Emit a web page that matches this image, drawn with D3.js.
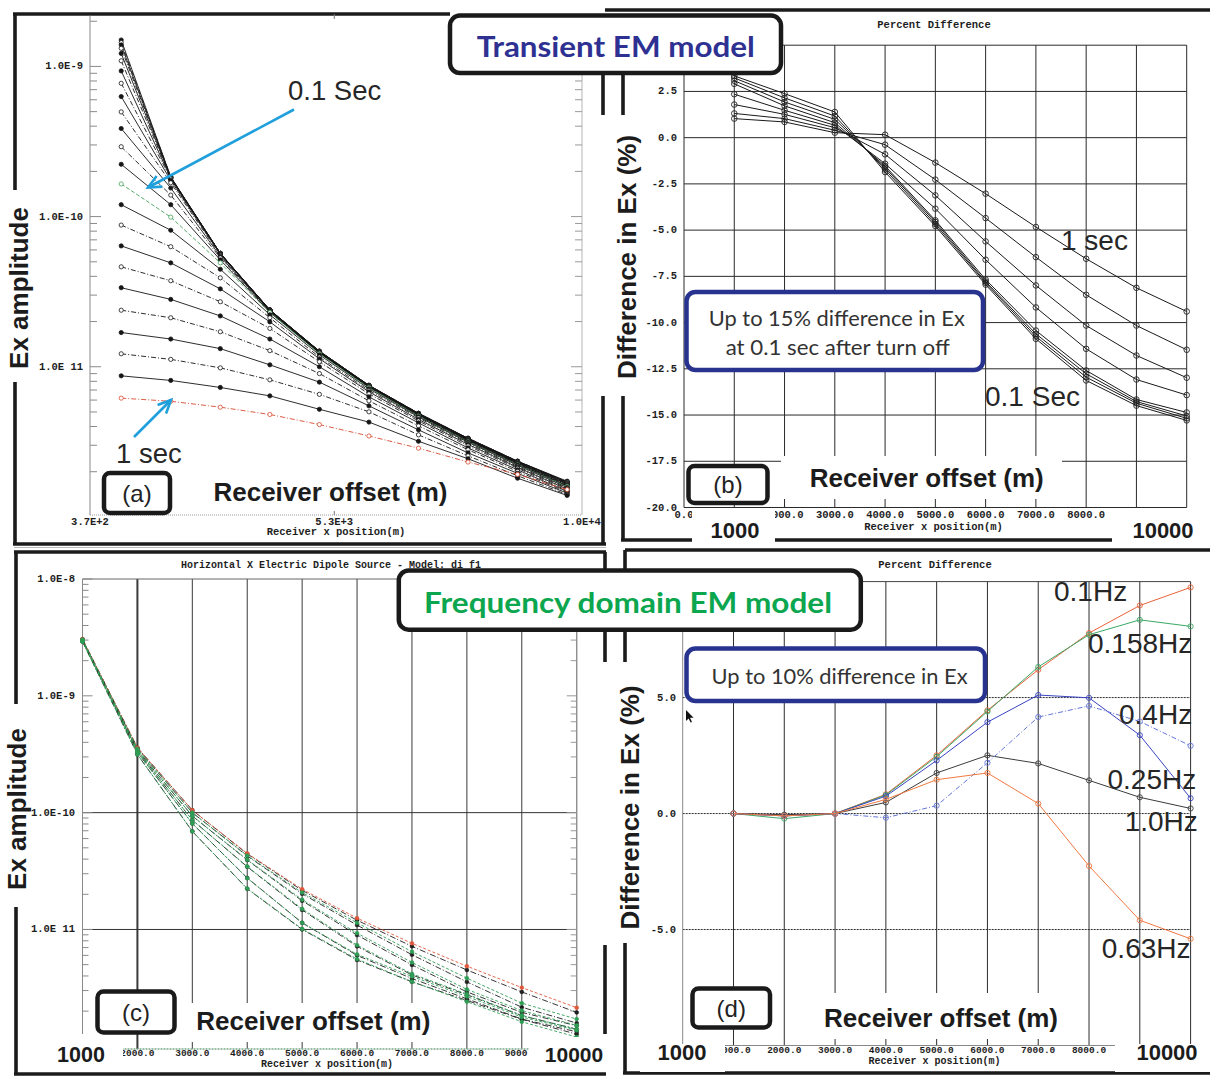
<!DOCTYPE html>
<html><head><meta charset="utf-8">
<script src="https://cdn.jsdelivr.net/npm/d3@7/dist/d3.min.js"></script>
<style>html,body{margin:0;padding:0;background:#fff;} svg{display:block;}</style>
</head><body>
<svg id="fig" width="1210" height="1076" xmlns="http://www.w3.org/2000/svg"></svg>
<script>
// ================= DATA =================
const receiverOffsets = [1000, 2000, 3000, 4000, 5000, 6000, 7000, 8000, 9000, 10000];

// (a) Transient Ex amplitude, time gates (earliest first; gate 14 = 0.1 s, gate 24 = 1 s)
const exGate01 = [1.50e-9, 1.84e-10, 5.69e-11, 2.39e-11, 1.27e-11, 7.52e-12, 4.90e-12, 3.34e-12, 2.35e-12, 1.73e-12];
const exGate02 = [1.44e-9, 1.84e-10, 5.69e-11, 2.39e-11, 1.27e-11, 7.52e-12, 4.90e-12, 3.34e-12, 2.35e-12, 1.71e-12];
const exGate03 = [1.39e-9, 1.82e-10, 5.69e-11, 2.39e-11, 1.27e-11, 7.52e-12, 4.90e-12, 3.34e-12, 2.35e-12, 1.71e-12];
const exGate04 = [1.32e-9, 1.82e-10, 5.69e-11, 2.39e-11, 1.27e-11, 7.52e-12, 4.86e-12, 3.31e-12, 2.33e-12, 1.70e-12];
const exGate05 = [1.22e-9, 1.81e-10, 5.69e-11, 2.39e-11, 1.26e-11, 7.46e-12, 4.86e-12, 3.31e-12, 2.33e-12, 1.69e-12];
const exGate06 = [1.09e-9, 1.81e-10, 5.69e-11, 2.37e-11, 1.26e-11, 7.46e-12, 4.86e-12, 3.31e-12, 2.33e-12, 1.69e-12];
const exGate07 = [9.33e-10, 1.80e-10, 5.65e-11, 2.37e-11, 1.26e-11, 7.46e-12, 4.86e-12, 3.29e-12, 2.31e-12, 1.67e-12];
const exGate08 = [7.72e-10, 1.78e-10, 5.65e-11, 2.37e-11, 1.26e-11, 7.46e-12, 4.82e-12, 3.29e-12, 2.31e-12, 1.66e-12];
const exGate09 = [6.30e-10, 1.74e-10, 5.60e-11, 2.36e-11, 1.25e-11, 7.41e-12, 4.82e-12, 3.26e-12, 2.29e-12, 1.65e-12];
const exGate10 = [4.98e-10, 1.68e-10, 5.52e-11, 2.36e-11, 1.25e-11, 7.41e-12, 4.78e-12, 3.26e-12, 2.29e-12, 1.64e-12];
const exGate11 = [3.86e-10, 1.55e-10, 5.43e-11, 2.34e-11, 1.24e-11, 7.35e-12, 4.78e-12, 3.24e-12, 2.27e-12, 1.62e-12];
const exGate12 = [2.92e-10, 1.39e-10, 5.31e-11, 2.32e-11, 1.24e-11, 7.35e-12, 4.75e-12, 3.21e-12, 2.26e-12, 1.61e-12];
const exGate13 = [2.23e-10, 1.20e-10, 5.15e-11, 2.30e-11, 1.23e-11, 7.29e-12, 4.71e-12, 3.19e-12, 2.24e-12, 1.60e-12];
const exGate14 = [1.65e-10, 9.92e-11, 4.92e-11, 2.29e-11, 1.22e-11, 7.24e-12, 4.68e-12, 3.16e-12, 2.22e-12, 1.59e-12];
const exGate15 = [1.20e-10, 8.11e-11, 4.46e-11, 2.22e-11, 1.20e-11, 7.13e-12, 4.64e-12, 3.14e-12, 2.21e-12, 1.57e-12];
const exGate16 = [8.78e-11, 6.30e-11, 3.91e-11, 2.12e-11, 1.16e-11, 6.96e-12, 4.57e-12, 3.09e-12, 2.17e-12, 1.55e-12];
const exGate17 = [6.38e-11, 4.92e-11, 3.30e-11, 1.99e-11, 1.13e-11, 6.81e-12, 4.46e-12, 3.04e-12, 2.14e-12, 1.53e-12];
const exGate18 = [4.63e-11, 3.74e-11, 2.71e-11, 1.80e-11, 1.08e-11, 6.60e-12, 4.36e-12, 2.97e-12, 2.11e-12, 1.50e-12];
const exGate19 = [3.36e-11, 2.81e-11, 2.18e-11, 1.53e-11, 1.00e-11, 6.30e-12, 4.23e-12, 2.88e-12, 2.06e-12, 1.48e-12];
const exGate20 = [2.38e-11, 2.12e-11, 1.71e-11, 1.28e-11, 9.01e-12, 5.93e-12, 4.04e-12, 2.80e-12, 2.01e-12, 1.46e-12];
const exGate21 = [1.69e-11, 1.53e-11, 1.32e-11, 1.03e-11, 7.90e-12, 5.49e-12, 3.80e-12, 2.67e-12, 1.95e-12, 1.44e-12];
const exGate22 = [1.22e-11, 1.12e-11, 9.83e-12, 8.18e-12, 6.55e-12, 5.01e-12, 3.52e-12, 2.55e-12, 1.88e-12, 1.41e-12];
const exGate23 = [8.70e-12, 8.11e-12, 7.28e-12, 6.40e-12, 5.21e-12, 4.28e-12, 3.19e-12, 2.44e-12, 1.81e-12, 1.39e-12];
const exGate24 = [6.18e-12, 5.89e-12, 5.38e-12, 4.81e-12, 4.12e-12, 3.46e-12, 2.87e-12, 2.32e-12, 1.92e-12, 1.52e-12];
const transientGates = [exGate01, exGate02, exGate03, exGate04, exGate05, exGate06, exGate07, exGate08,
  exGate09, exGate10, exGate11, exGate12, exGate13, exGate14, exGate15, exGate16, exGate17, exGate18,
  exGate19, exGate20, exGate21, exGate22, exGate23, exGate24];
const aYTickValues = [1e-9, 1e-10, 1e-11];
const aYTickLabels = ["1.0E-9", "1.0E-10", "1.0E 11"];
const aXTickValues = [370, 5300, 10300];
const aXTickLabels = ["3.7E+2", "5.3E+3", "1.0E+4"];

// (b) Transient percent difference (1 s first ... 0.1 s last)
const pdGate1 = [1.03, 0.85, 0.27, 0.16, -1.35, -3.03, -4.83, -6.55, -8.12, -9.40];
const pdGate2 = [1.31, 1.03, 0.40, -0.38, -2.27, -4.35, -6.46, -8.50, -10.16, -11.47];
const pdGate3 = [1.79, 1.26, 0.54, -0.90, -3.12, -5.61, -7.99, -10.16, -11.78, -12.98];
const pdGate4 = [2.35, 1.48, 0.67, -1.41, -3.84, -6.60, -9.18, -11.42, -13.08, -13.92];
const pdGate5 = [2.91, 1.72, 0.81, -1.53, -4.47, -7.67, -10.43, -12.59, -14.16, -14.86];
const pdGate6 = [3.08, 1.93, 0.99, -1.62, -4.56, -7.78, -10.61, -12.77, -14.27, -15.05];
const pdGate7 = [3.23, 2.15, 1.17, -1.73, -4.67, -7.85, -10.75, -12.95, -14.36, -15.18];
const pdGate8 = [3.34, 2.38, 1.39, -1.86, -4.78, -7.95, -10.88, -13.13, -14.49, -15.29];
const transientPct = [pdGate1, pdGate2, pdGate3, pdGate4, pdGate5, pdGate6, pdGate7, pdGate8];
const bYTickValues = [5, 2.5, 0, -2.5, -5, -7.5, -10, -12.5, -15, -17.5, -20];
const bYTickLabels = ["5.0", "2.5", "0.0", "-2.5", "-5.0", "-7.5", "-10.0", "-12.5", "-15.0", "-17.5", "-20.0"];
const gridOffsets = [0, 1000, 2000, 3000, 4000, 5000, 6000, 7000, 8000, 9000, 10000];
const gridOffsetLabels = ["0.0", "1000.0", "2000.0", "3000.0", "4000.0", "5000.0", "6000.0", "7000.0", "8000.0", "9000.0", "10000.0"];

// (c) Frequency-domain Ex amplitude, model 1 / model 2
const fdEx1_0p1   = [3.06e-9, 3.60e-10, 1.05e-10, 4.44e-11, 2.16e-11, 1.20e-11, 7.17e-12, 4.50e-12, 2.92e-12, 1.95e-12];
const fdEx2_0p1   = [3.06e-9, 3.60e-10, 1.05e-10, 4.48e-11, 2.21e-11, 1.25e-11, 7.61e-12, 4.85e-12, 3.18e-12, 2.14e-12];
const fdEx1_0p158 = [3.03e-9, 3.53e-10, 1.00e-10, 4.26e-11, 2.02e-11, 1.09e-11, 6.08e-12, 3.56e-12, 2.16e-12, 1.58e-12];
const fdEx2_0p158 = [3.03e-9, 3.52e-10, 1.00e-10, 4.29e-11, 2.07e-11, 1.14e-11, 6.46e-12, 3.83e-12, 2.34e-12, 1.71e-12];
const fdEx1_0p4   = [3.00e-9, 3.43e-10, 9.36e-11, 3.93e-11, 1.76e-11, 8.95e-12, 4.97e-12, 2.92e-12, 1.95e-12, 1.50e-12];
const fdEx2_0p4   = [3.00e-9, 3.43e-10, 9.36e-11, 3.96e-11, 1.80e-11, 9.30e-12, 5.22e-12, 3.07e-12, 2.02e-12, 1.51e-12];
const fdEx1_0p25  = [2.97e-9, 3.36e-10, 8.64e-11, 3.44e-11, 1.47e-11, 7.17e-12, 4.08e-12, 2.76e-12, 1.83e-12, 1.40e-12];
const fdEx2_0p25  = [2.97e-9, 3.36e-10, 8.64e-11, 3.46e-11, 1.50e-11, 7.35e-12, 4.17e-12, 2.80e-12, 1.84e-12, 1.40e-12];
const fdEx1_1p0   = [2.94e-9, 3.28e-10, 8.07e-11, 2.76e-11, 1.14e-11, 6.00e-12, 3.80e-12, 2.55e-12, 1.71e-12, 1.33e-12];
const fdEx2_1p0   = [2.94e-9, 3.28e-10, 8.07e-11, 2.75e-11, 1.14e-11, 6.13e-12, 3.96e-12, 2.67e-12, 1.78e-12, 1.37e-12];
const fdEx1_0p63  = [2.91e-9, 3.15e-10, 6.92e-11, 2.23e-11, 1.00e-11, 5.48e-12, 3.56e-12, 2.47e-12, 1.70e-12, 1.27e-12];
const fdEx2_0p63  = [2.91e-9, 3.15e-10, 6.92e-11, 2.24e-11, 1.01e-11, 5.58e-12, 3.58e-12, 2.41e-12, 1.62e-12, 1.20e-12];
const fdModel1 = [fdEx1_0p1, fdEx1_0p158, fdEx1_0p4, fdEx1_0p25, fdEx1_1p0, fdEx1_0p63];
const fdModel2 = [fdEx2_0p1, fdEx2_0p158, fdEx2_0p4, fdEx2_0p25, fdEx2_1p0, fdEx2_0p63];
const cYTickValues = [1e-8, 1e-9, 1e-10, 1e-11];
const cYTickLabels = ["1.0E-8", "1.0E-9", "1.0E-10", "1.0E 11"];
const cXTickValues = [1000, 2000, 3000, 4000, 5000, 6000, 7000, 8000, 9000, 10000];
const cXTickLabels = ["1000.0", "2000.0", "3000.0", "4000.0", "5000.0", "6000.0", "7000.0", "8000.0", "9000.0", "10000.0"];

// (d) Frequency-domain percent difference
const pdFreq0p1   = [0, -0.10, 0, 0.83, 2.51, 4.45, 6.20, 7.78, 8.97, 9.75];
const pdFreq0p158 = [0, -0.22, 0, 0.80, 2.45, 4.40, 6.32, 7.71, 8.35, 8.07];
const pdFreq0p4   = [0, -0.10, 0, 0.75, 2.29, 3.94, 5.11, 4.99, 3.38, 0.66];
const pdFreq0p25  = [0, -0.05, 0, 0.48, 1.75, 2.51, 2.16, 1.43, 0.70, 0.22];
const pdFreq1p0   = [0, -0.10, 0, -0.18, 0.34, 2.19, 4.16, 4.64, 3.97, 2.92];
const pdFreq0p63  = [0, -0.10, 0, 0.61, 1.46, 1.75, 0.43, -2.26, -4.60, -5.40];
const freqPct = [pdFreq0p1, pdFreq0p158, pdFreq0p4, pdFreq0p25, pdFreq1p0, pdFreq0p63];
const freqNames = ["0.1Hz", "0.158Hz", "0.4Hz", "0.25Hz", "1.0Hz", "0.63Hz"];
const dYTickValues = [5, 0, -5];
const dYTickLabels = ["5.0", "0.0", "-5.0"];

// ================= DRAWING =================
const svg = d3.select("#fig");
svg.append("rect").attr("width", 1210).attr("height", 1076).attr("fill", "#fff");
const MONO = "'Liberation Mono','DejaVu Sans Mono',monospace";
const SANS = "'Liberation Sans',Arial,sans-serif";
const HUM = "Lato,'Open Sans',sans-serif";

function txt(g, x, y, s, o = {}) {
  const t = g.append("text").attr("x", x).attr("y", y).text(s)
    .attr("font-family", o.font || SANS).attr("font-size", o.size || 12)
    .attr("font-weight", o.weight || "normal").attr("fill", o.fill || "#222")
    .attr("text-anchor", o.anchor || "start")
    .attr("dominant-baseline", o.baseline || "central");
  if (o.len) t.attr("textLength", o.len).attr("lengthAdjust", "spacingAndGlyphs");
  if (o.rotate) t.attr("transform", `rotate(${o.rotate},${x},${y})`);
  return t;
}
function seg(g, x1, y1, x2, y2, stroke, w, dash) {
  return g.append("line").attr("x1", x1).attr("y1", y1).attr("x2", x2).attr("y2", y2)
    .attr("stroke", stroke).attr("stroke-width", w).attr("stroke-dasharray", dash || null);
}
function wrect(g, x, y, w, h) {
  return g.append("rect").attr("x", x).attr("y", y).attr("width", w).attr("height", h).attr("fill", "#fff");
}
function isMajor(v) { const l = Math.log10(v); return Math.abs(l - Math.round(l)) < 1e-6; }
const tickFont = { font: MONO, size: 10.5, weight: "bold", fill: "#1e1e1e" };

// ---- Panel frames ----
const gF = svg.append("g");
const FR = "#1b1b1b", FW = 3.6;
[[13,14,450,14],[605,10,1210,10],[15,14,15,190],[15,382,15,545],[13,544,606,544],
 [603,73,603,115],[603,396,603,544],
 [623,73,623,115],[623,396,623,540],[621,540,1210,540],
 [14,552,606,552],[16,552,16,704],[16,907,16,1074],[14,1074,606,1074],
 [605,552,605,570],[605,630,605,662],[605,945,605,1034],
 [625,550,1210,550],[625,550,625,570],[625,631,625,662],[625,943,625,1074],[623,1073,1210,1073]
].forEach(s => seg(gF, s[0], s[1], s[2], s[3], FR, FW));
seg(gF, 14, 547.5, 606, 547.5, "#bbb", 1);

// ---- Panel (a) ----
const gA = svg.append("g");
const xA = d3.scaleLinear().domain([370, 10300]).range([90, 582]);
const yA = d3.scaleLog().domain([1.03e-12, 2.18e-9]).range([515, 15.6]);
seg(gA, xA(370), yA.range()[1], xA(370), yA.range()[0], "#8a8a8a", 1);
seg(gA, xA(10300), yA.range()[1], xA(10300), yA.range()[0], "#b5b5b5", 1);
seg(gA, xA(370), 515, xA(10300), 515, "#999", 1, "1,1");
yA.ticks().forEach(v => {
  const y = yA(v), L = isMajor(v) ? 11 : 7;
  seg(gA, 90, y, 90 + L, y, "#8a8a8a", 1);
  seg(gA, 582, y, 582 - L, y, "#9a9a9a", 1);
});
aYTickValues.forEach((v, i) => txt(gA, 83, yA(v), aYTickLabels[i], { ...tickFont, anchor: "end" }));
aXTickValues.forEach((v, i) => txt(gA, xA(v), 521.5, aXTickLabels[i], { ...tickFont, anchor: "middle" }));
seg(gA, xA(5300), 511, xA(5300), 515, "#777", 1);
seg(gA, xA(5300), 14, xA(5300), 19, "#777", 1);
txt(gA, 336, 531.5, "Receiver x position(m)", { ...tickFont, anchor: "middle" });
const lineA = d3.line().x((d, i) => xA(receiverOffsets[i])).y(d => yA(d));
transientGates.forEach((s, k) => {
  const col = k === 13 ? "#45a35a" : (k === 23 ? "#d84a30" : "#151515");
  const dash = k === 13 ? "4,2" : (k % 2 === 1 ? "5,2,1,2" : null);
  gA.append("path").attr("d", lineA(s)).attr("fill", "none").attr("stroke", col)
    .attr("stroke-width", 0.9).attr("stroke-dasharray", dash);
  gA.selectAll(null).data(s).join("circle")
    .attr("cx", (d, i) => xA(receiverOffsets[i])).attr("cy", d => yA(d)).attr("r", 2.1)
    .attr("fill", (k % 2 === 0 && k !== 23) ? col : "#fff").attr("stroke", col).attr("stroke-width", 0.8);
});

// ---- Panel (b) ----
const gB = svg.append("g");
const xB = d3.scaleLinear().domain([0, 10000]).range([684, 1186.7]);
const yB = d3.scaleLinear().domain([-20, 5]).range([507.5, 45.2]);
bYTickValues.forEach(v => seg(gB, xB(0), yB(v), xB(10000), yB(v), "#2a2a2a", 1));
gridOffsets.forEach(v => seg(gB, xB(v), yB(5), xB(v), yB(-20), "#2a2a2a", 1));
// the top label sits under the title box, so only the visible ones are written
bYTickValues.forEach((v, i) => { if (yB(v) > 80) txt(gB, 677, yB(v), bYTickLabels[i], { ...tickFont, anchor: "end" }); });
gridOffsets.forEach((v, i) => { if (v !== 1000 && v < 9000) txt(gB, xB(v), 514.5, gridOffsetLabels[i], { ...tickFont, anchor: "middle" }); });
txt(gB, 934, 25, "Percent Difference", { ...tickFont, anchor: "middle" });
txt(gB, 933.5, 526.8, "Receiver x position(m)", { ...tickFont, anchor: "middle" });
const lineB = d3.line().x((d, i) => xB(receiverOffsets[i])).y(d => yB(d));
transientPct.forEach(s => {
  gB.append("path").attr("d", lineB(s)).attr("fill", "none").attr("stroke", "#1a1a1a").attr("stroke-width", 1);
  gB.selectAll(null).data(s).join("circle")
    .attr("cx", (d, i) => xB(receiverOffsets[i])).attr("cy", d => yB(d)).attr("r", 2.8)
    .attr("fill", "none").attr("stroke", "#222").attr("stroke-width", 0.9);
});

// ---- Panel (c) ----
const gC = svg.append("g");
const xC = d3.scaleLinear().domain([1000, 10000]).range([82.5, 576.7]);
const yC = d3.scaleLog().domain([9.5e-13, 1e-8]).range([1048.9, 579]);
cXTickValues.slice(1).forEach(v => seg(gC, xC(v), yC(1e-8), xC(v), yC.range()[0], "#3a3a3a", v === 2000 ? 2 : 1));
[1e-10, 1e-11].forEach(v => seg(gC, xC(1000), yC(v), xC(10000), yC(v), "#333", 1));
seg(gC, xC(1000), yC(1e-8), xC(10000), yC(1e-8), "#666", 1);
seg(gC, xC(1000), yC(1e-8), xC(1000), 1034, "#8a8a8a", 1);
seg(gC, xC(10000), yC(1e-8), xC(10000), 1034, "#9a9a9a", 1);
seg(gC, xC(1000), yC.range()[0], xC(10000), yC.range()[0], "#7aa88a", 1.5, "2,1");
yC.ticks().forEach(v => {
  const y = yC(v), L = isMajor(v) ? 10 : 6;
  if (y > 1036) return;
  seg(gC, 82.5, y, 82.5 + L, y, "#8a8a8a", 1);
  seg(gC, 576.7, y, 576.7 - L, y, "#9a9a9a", 1);
});
cYTickValues.forEach((v, i) => txt(gC, 75, yC(v), cYTickLabels[i], { ...tickFont, anchor: "end" }));
cXTickValues.forEach((v, i) => { if (v > 1000 && v < 10000) txt(gC, xC(v), 1053.2, cXTickLabels[i], { ...tickFont, anchor: "middle", size: 9.5 }); });
txt(gC, 327, 1064, "Receiver x position(m)", { ...tickFont, anchor: "middle", size: 10 });
txt(gC, 331, 565.3, "Horizontal X Electric Dipole Source - Model: di f1", { ...tickFont, anchor: "middle", size: 10 });
const lineC = d3.line().x((d, i) => xC(receiverOffsets[i])).y(d => yC(d));
function drawC(s, col, dash) {
  gC.append("path").attr("d", lineC(s)).attr("fill", "none").attr("stroke", col)
    .attr("stroke-width", 0.9).attr("stroke-dasharray", dash);
  gC.selectAll(null).data(s).join("circle")
    .attr("cx", (d, i) => xC(receiverOffsets[i])).attr("cy", d => yC(d)).attr("r", 1.9)
    .attr("fill", col).attr("stroke", col).attr("stroke-width", 0.6);
}
fdModel1.forEach(s => drawC(s, "#1f1f1f", "6,2,1,2"));
fdModel2.forEach((s, k) => drawC(s, k === 0 ? "#e0573a" : "#2f9e55", "3,2"));

// ---- Panel (d) ----
const gD = svg.append("g");
const xD = d3.scaleLinear().domain([0, 10000]).range([682.7, 1190.6]);
const yD = d3.scaleLinear().domain([-10, 10]).range([1045.5, 581.6]);
gridOffsets.slice(1).forEach(v => seg(gD, xD(v), yD(10), xD(v), yD(-10), "#2e2e2e", 1));
dYTickValues.forEach(v => seg(gD, xD(0), yD(v), xD(10000), yD(v), "#2e2e2e", 1, "2,1"));
seg(gD, xD(0), yD(10), xD(10000), yD(10), "#444", 1);
seg(gD, xD(0), yD(10), xD(0), yD(-10), "#8a8a8a", 1);
seg(gD, xD(0), yD(-10), xD(10000), yD(-10), "#888", 1);
dYTickValues.forEach((v, i) => txt(gD, 676, yD(v), dYTickLabels[i], { ...tickFont, anchor: "end" }));
gridOffsets.forEach((v, i) => { if (v > 0 && v < 9000) txt(gD, xD(v), 1050.5, gridOffsetLabels[i], { ...tickFont, anchor: "middle", size: 9.5 }); });
txt(gD, 935, 565.3, "Percent Difference", { ...tickFont, anchor: "middle" });
txt(gD, 934.5, 1061.5, "Receiver x position(m)", { ...tickFont, anchor: "middle", size: 10 });
const dColors = ["#e8623a", "#3aa864", "#3a44c2", "#3c3c3c", "#6476d8", "#f07a42"];
const dDash = [null, null, null, null, "5,2,1,2", null];
const lineD = d3.line().x((d, i) => xD(receiverOffsets[i])).y(d => yD(d));
freqPct.forEach((s, k) => {
  gD.append("path").attr("d", lineD(s)).attr("fill", "none").attr("stroke", dColors[k])
    .attr("stroke-width", 1).attr("stroke-dasharray", dDash[k]);
  gD.selectAll(null).data(s).join("circle")
    .attr("cx", (d, i) => xD(receiverOffsets[i])).attr("cy", d => yD(d)).attr("r", 2.6)
    .attr("fill", "none").attr("stroke", dColors[k]).attr("stroke-width", 0.9);
});

// ---- Overlays ----
const gO = svg.append("g");
const bigFont = { font: SANS, size: 22, weight: "bold", fill: "#1c1c1c", anchor: "middle" };
// (b)
wrect(gO, 692, 509, 83, 37); txt(gO, 735, 530, "1000", bigFont);
wrect(gO, 1112, 509, 98, 37); txt(gO, 1163, 530, "10000", bigFont);
wrect(gO, 781, 456, 281, 43);
// (c)
wrect(gO, 22, 1036, 101, 35); txt(gO, 81, 1054.5, "1000", { ...bigFont, size: 21.5 });
wrect(gO, 529, 1037, 74, 34); txt(gO, 574, 1054.5, "10000", { ...bigFont, size: 21 });
wrect(gO, 190, 1003, 246, 39);
// (d)
wrect(gO, 640, 1044, 85, 28); txt(gO, 682, 1052.5, "1000", bigFont);
wrect(gO, 1115, 1044, 95, 28); txt(gO, 1167, 1052.5, "10000", bigFont);
wrect(gO, 795, 993, 275, 46);

// Axis titles
const axT = { font: SANS, size: 26, weight: "bold", fill: "#1c1c1c", anchor: "middle" };
txt(gO, 330.5, 492, "Receiver offset (m)", axT);
txt(gO, 926.7, 478, "Receiver offset (m)", axT);
txt(gO, 313.3, 1021, "Receiver offset (m)", axT);
txt(gO, 941, 1017.5, "Receiver offset (m)", axT);
txt(gO, 19, 288, "Ex amplitude", { ...axT, rotate: -90 });
txt(gO, 17, 809, "Ex amplitude", { ...axT, rotate: -90 });
txt(gO, 627, 257, "Difference in Ex (%)", { ...axT, rotate: -90 });
txt(gO, 630, 807.5, "Difference in Ex (%)", { ...axT, rotate: -90 });

// Panel letter boxes
function letterBox(x, y, w, h, s) {
  gO.append("rect").attr("x", x).attr("y", y).attr("width", w).attr("height", h).attr("rx", 6)
    .attr("fill", "#fff").attr("stroke", "#1a1a1a").attr("stroke-width", 4.5);
  txt(gO, x + w / 2, y + h / 2, s, { font: SANS, size: 24, fill: "#222", anchor: "middle" });
}
letterBox(104, 473, 66, 40, "(a)");
letterBox(688.5, 466, 79, 37, "(b)");
letterBox(97.5, 991.5, 77, 41, "(c)");
letterBox(692.5, 988.5, 77.5, 39, "(d)");

// Annotation boxes
function noteBox(x, y, w, h) {
  gO.append("rect").attr("x", x).attr("y", y).attr("width", w).attr("height", h).attr("rx", 9)
    .attr("fill", "#fff").attr("stroke", "#28338f").attr("stroke-width", 4.5);
}
noteBox(686.5, 292, 296.5, 78);
txt(gO, 836.8, 317, "Up to 15% difference in Ex", { font: HUM, size: 21, fill: "#333", anchor: "middle", len: 256 });
txt(gO, 837.7, 346, "at 0.1 sec after turn off", { font: HUM, size: 21, fill: "#333", anchor: "middle", len: 224 });
noteBox(686.5, 648.5, 298.5, 52.5);
txt(gO, 839.6, 675.5, "Up to 10% difference in Ex", { font: HUM, size: 21, fill: "#333", anchor: "middle", len: 256 });

// Title boxes
function titleBox(x, y, w, h) {
  gO.append("rect").attr("x", x).attr("y", y).attr("width", w).attr("height", h).attr("rx", 10)
    .attr("fill", "#fff").attr("stroke", "#1a1a1a").attr("stroke-width", 4.5);
}
titleBox(450, 15.6, 331, 57.4);
txt(gO, 615.8, 45, "Transient EM model", { font: HUM, size: 29, weight: "bold", fill: "#2e3192", anchor: "middle", len: 278 });
titleBox(398.8, 570.4, 462, 59.3);
txt(gO, 628, 601, "Frequency domain EM model", { font: HUM, size: 29, weight: "bold", fill: "#0ca64f", anchor: "middle", len: 408 });

// Curve labels
const lab = { font: SANS, size: 28, fill: "#262626" };
txt(gO, 288, 99.5, "0.1 Sec", { ...lab, baseline: "auto", size: 27.5 });
txt(gO, 116, 463, "1 sec", { ...lab, baseline: "auto", size: 27.5 });
txt(gO, 1061, 250, "1 sec", { ...lab, baseline: "auto" });
txt(gO, 985, 406, "0.1 Sec", { ...lab, baseline: "auto" });
const dLabelPos = [[1054, 601], [1088, 653], [1119, 724], [1107.5, 789], [1124.7, 831], [1101.8, 958]];
freqNames.forEach((n, i) => txt(gO, dLabelPos[i][0], dLabelPos[i][1], n, { ...lab, baseline: "auto" }));

// Blue arrows in (a)
function arrow(x1, y1, x2, y2) {
  const dx = x2 - x1, dy = y2 - y1, L = Math.hypot(dx, dy), ux = dx / L, uy = dy / L;
  const bx = x2 - 13 * ux, by = y2 - 13 * uy, nx = -uy, ny = ux;
  gO.append("line").attr("x1", x1).attr("y1", y1).attr("x2", x2).attr("y2", y2)
    .attr("stroke", "#1f9fdc").attr("stroke-width", 2.6);
  gO.append("path").attr("d", `M${bx + 6 * nx},${by + 6 * ny}L${x2},${y2}L${bx - 6 * nx},${by - 6 * ny}`)
    .attr("fill", "none").attr("stroke", "#1f9fdc").attr("stroke-width", 2.6);
}
arrow(294, 109.5, 148, 187.5);
arrow(134, 437, 171, 400);

// Mouse cursor in (d)
gO.append("path").attr("d", "M686,710 L686,721 L688.6,718.4 L690.6,722.6 L692,722 L690,717.8 L693.6,717.8 Z").attr("fill", "#111");
</script>
</body></html>
